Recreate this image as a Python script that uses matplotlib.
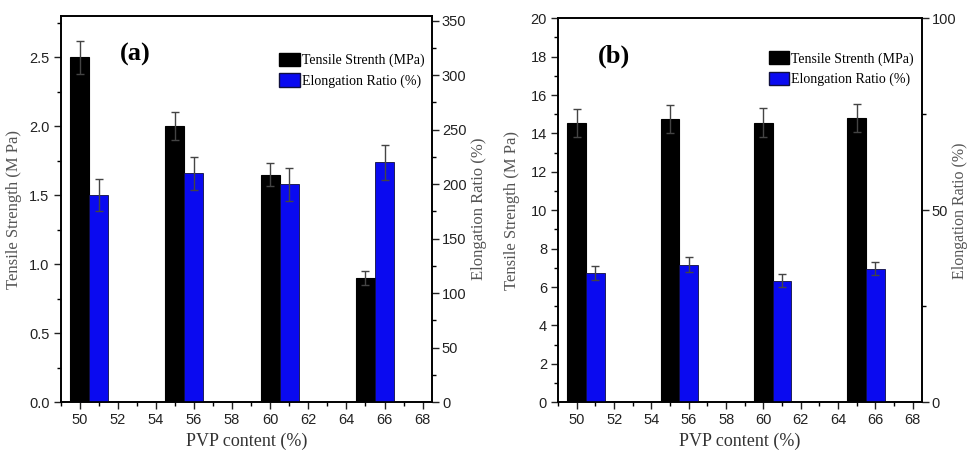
import matplotlib
matplotlib.use("Agg")
import matplotlib.pyplot as plt
from matplotlib.ticker import MultipleLocator
from matplotlib.patches import Patch
import numpy as np

# PVP content of the four films
pvp = np.array([50, 55, 60, 65])

# Panel (a)
ts_a = [2.5, 2.0, 1.65, 0.9]
ts_a_err = [0.12, 0.10, 0.085, 0.05]
el_a = [190, 210, 200, 220]
el_a_err = [15, 15, 15, 16]

# Panel (b)
ts_b = [14.55, 14.75, 14.55, 14.8]
ts_b_err = [0.72, 0.75, 0.75, 0.72]
el_b = [33.7, 35.8, 31.7, 34.8]
el_b_err = [1.8, 1.9, 1.75, 1.7]

xticks = np.arange(50, 69, 2)
lbl_ts = "Tensile Strength (M Pa)"
lbl_el = "Elongation Ratio (%)"
lbl_x = "PVP content (%)"
legend_labels = ["Tensile Strenth (MPa)", "Elongation Ratio (%)"]

TICKFONT = ["Liberation Sans Narrow", "Liberation Sans", "DejaVu Sans"]
SERIF = ["Liberation Serif", "DejaVu Serif"]
LBLCOL = "#555555"
BLUE = "#0a0af0"


def style_axis(ax, major, minor):
    ax.yaxis.set_major_locator(MultipleLocator(major))
    ax.yaxis.set_minor_locator(MultipleLocator(minor))
    ax.tick_params(which="major", direction="out", length=5, width=1, labelsize=10.5,
                   colors="#222222", pad=3)
    ax.tick_params(which="minor", direction="out", length=3, width=1)
    for lab in ax.get_yticklabels() + ax.get_xticklabels():
        lab.set_family(TICKFONT)


def panel(rect, ts, ts_err, el, el_err, ylim_l, ylim_r, lmaj, lmin, rmaj, rmin,
          tag, tag_x, lpad, rpad, leg_y, rsize, fig):
    ax = fig.add_axes(rect)
    ax.bar(pvp, ts, width=1.0, color="black", edgecolor="black", linewidth=0.8,
           yerr=ts_err, error_kw=dict(ecolor="#444444", elinewidth=1, capsize=3, capthick=1))
    ax.set_xlim(49, 68.5)
    ax.set_ylim(*ylim_l)
    ax.xaxis.set_minor_locator(MultipleLocator(1))
    ax.set_xticks(xticks)
    style_axis(ax, lmaj, lmin)
    for s in ax.spines.values():
        s.set_linewidth(1.2)

    ax2 = ax.twinx()
    ax2.bar(pvp + 1, el, width=1.0, color=BLUE, edgecolor="#101040", linewidth=0.6,
            yerr=el_err, error_kw=dict(ecolor="#444444", elinewidth=1, capsize=3, capthick=1))
    ax2.set_ylim(*ylim_r)
    style_axis(ax2, rmaj, rmin)
    ax2.tick_params(axis="y", pad=2)
    for s in ax2.spines.values():
        s.set_linewidth(1.2)

    ax.set_xlabel(lbl_x, family=SERIF, fontsize=13, color="#333333", labelpad=4)
    ax.set_ylabel(lbl_ts, family=SERIF, fontsize=12, color=LBLCOL, labelpad=lpad)
    ax2.set_ylabel(lbl_el, family=SERIF, fontsize=rsize, color=LBLCOL, labelpad=rpad)

    ax.text(tag_x, 0.90, tag, transform=ax.transAxes, family=SERIF, fontsize=19,
            fontweight="bold", va="center", ha="left")

    handles = [Patch(facecolor="black", edgecolor="black"),
               Patch(facecolor=BLUE, edgecolor="#101040")]
    ax2.legend(handles, legend_labels, loc="upper right", bbox_to_anchor=(1.005, leg_y),
               frameon=False, prop=dict(family=SERIF, size=10),
               handlelength=1.5, handleheight=1.1, handletextpad=0.15,
               labelspacing=0.45, borderaxespad=0.3)
    return ax, ax2


fig = plt.figure(figsize=(9.69, 4.51), dpi=100)

panel([0.0625, 0.108, 0.3835, 0.857], ts_a, ts_a_err, el_a, el_a_err,
      (0, 2.8), (0, 354.4), 0.5, 0.25, 50, 25, "(a)", 0.159, 5, 3, 0.93, 12, fig)
panel([0.576, 0.108, 0.3755, 0.8516], ts_b, ts_b_err, el_b, el_b_err,
      (0, 20), (0, 100), 2, 1, 50, 25, "(b)", 0.11, 8, -3, 0.94, 11.5, fig)

fig.savefig("out.png", dpi=100)
